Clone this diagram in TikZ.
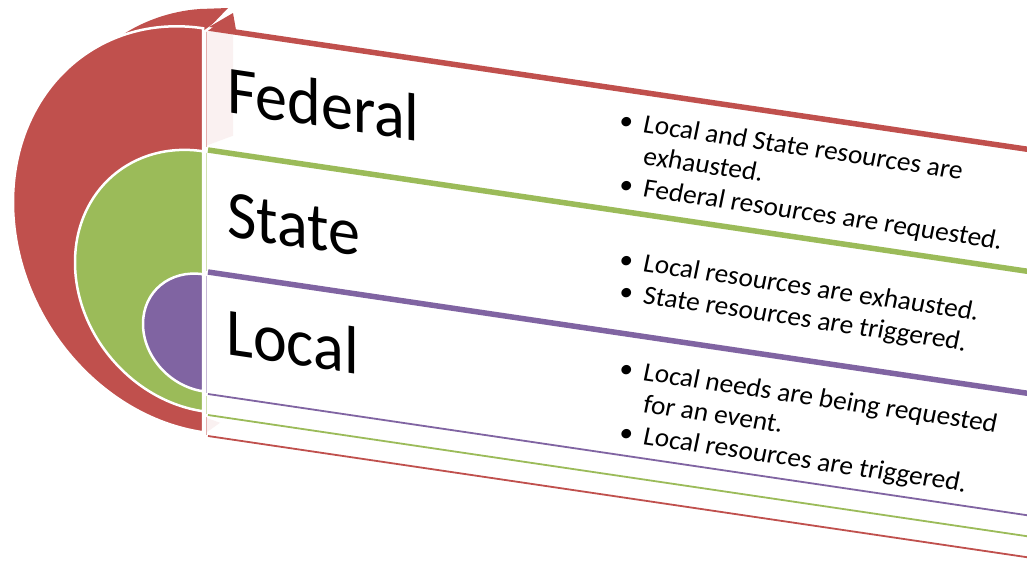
\documentclass[tikz,border=0pt]{standalone}
\usepackage{fontspec}
\setmainfont{Carlito}
\newfontfamily\bulfont{Carlito}[FakeSlant=0.2]
\definecolor{fedred}{HTML}{C0504D}
\definecolor{stgreen}{HTML}{9BBB59}
\definecolor{locpurple}{HTML}{8064A2}
\tikzset{
  disc/.style={draw=white, line width=2.5pt},
  topline/.style={line width=5.5pt},
  botline/.style={line width=1.8pt},
  edgeline/.style={line width=1pt},
  title/.style={font=\fontsize{64}{64}\selectfont, inner sep=0pt, anchor=base west, transform shape, yscale=1.06},
  bul/.style={font=\bulfont\fontsize{27}{32}\selectfont, inner sep=0pt, anchor=base west, transform shape},
}
\newcommand{\bulletlines}[1]{\begin{tabular}[t]{@{}p{24pt}@{}l@{}}#1\end{tabular}}
\begin{document}
\begin{tikzpicture}[x=1pt,y=-1pt]
\useasboundingbox (0,0) rectangle (1027,560);
\clip (0,0) rectangle (1027,560);
\fill[white] (0,0) rectangle (1027,560);
% 3D cap above the red half disc
\fill[fedred] (118,38) .. controls (140,22) and (170,11) .. (200,9) -- (228,8) -- (205,32) -- (150,36) -- cycle;
\begin{scope}[shift={(208,0)}, yslant=-0.148]
  % side faces
  \fill[fedred!8] (-2,30) -- (25,30) -- (25,132) -- (-2,146) -- cycle;
  \fill[fedred!8] (-2,418) -- (12,421) -- (-2,433) -- cycle;
  % half discs
  \fill[fedred, disc] (-5,29) arc[start angle=270, end angle=90, x radius=190, y radius=202] -- cycle;
  \fill[stgreen, disc] (-5,152) arc[start angle=270, end angle=90, x radius=128, y radius=130] -- cycle;
  \fill[locpurple, disc] (-5,275) arc[start angle=270, end angle=90, x radius=60, y radius=58.5] -- cycle;
  % panel left edges
  \draw[edgeline, fedred!45] (-2,31) -- (-2,147);
  \draw[edgeline, stgreen!45] (-2,153) -- (-2,271);
  \draw[edgeline, locpurple!45] (-2,276) -- (-2,393);
  \draw[edgeline, stgreen!45] (-2,396) -- (-2,414);
  \draw[edgeline, fedred!45] (-2,417) -- (-2,435);
  % panel borders
  \coordinate (fedtopL) at (0,28);  \coordinate (fedtopR) at (840,28);
  \coordinate (sttopL) at (0,150);  \coordinate (sttopR) at (840,150);
  \coordinate (loctopL) at (0,272); \coordinate (loctopR) at (840,272);
  \coordinate (locbotL) at (0,394); \coordinate (locbotR) at (840,394);
  \coordinate (stbotL) at (0,415);  \coordinate (stbotR) at (840,415);
  \coordinate (fedbotL) at (0,436); \coordinate (fedbotR) at (840,436);
  \draw[topline, fedred] (fedtopL) -- (fedtopR);
  \draw[topline, stgreen] (sttopL) -- (sttopR);
  \draw[topline, locpurple] (loctopL) -- (loctopR);
  \draw[botline, locpurple] (locbotL) -- (locbotR);
  \draw[botline, stgreen] (stbotL) -- (stbotR);
  \draw[botline, fedred] (fedbotL) -- (fedbotR);
  % titles
  \node[title] (fed) at (19,110) {Federal};
  \node[title] (st) at (19,234) {State};
  \node[title] (loc) at (18,352) {Local};
  % bullets
  \node[bul] (fedtxt) at (410,68) {\bulletlines{\textbullet & Local and State resources are\\ & exhausted.\\ \textbullet & Federal resources are requested.}};
  \node[bul] (sttxt) at (410,207) {\bulletlines{\textbullet & Local resources are exhausted.\\ \textbullet & State resources are triggered.}};
  \node[bul] (loctxt) at (410,316) {\bulletlines{\textbullet & Local needs are being requested\\ & for an event.\\ \textbullet & Local resources are triggered.}};
\end{scope}
% fold details at the top
\draw[white, line width=2.5pt] (204,32) -- (234,10);
\fill[fedred] (233,13) -- (209,27) -- (236,30) -- cycle;
\end{tikzpicture}
\end{document}
